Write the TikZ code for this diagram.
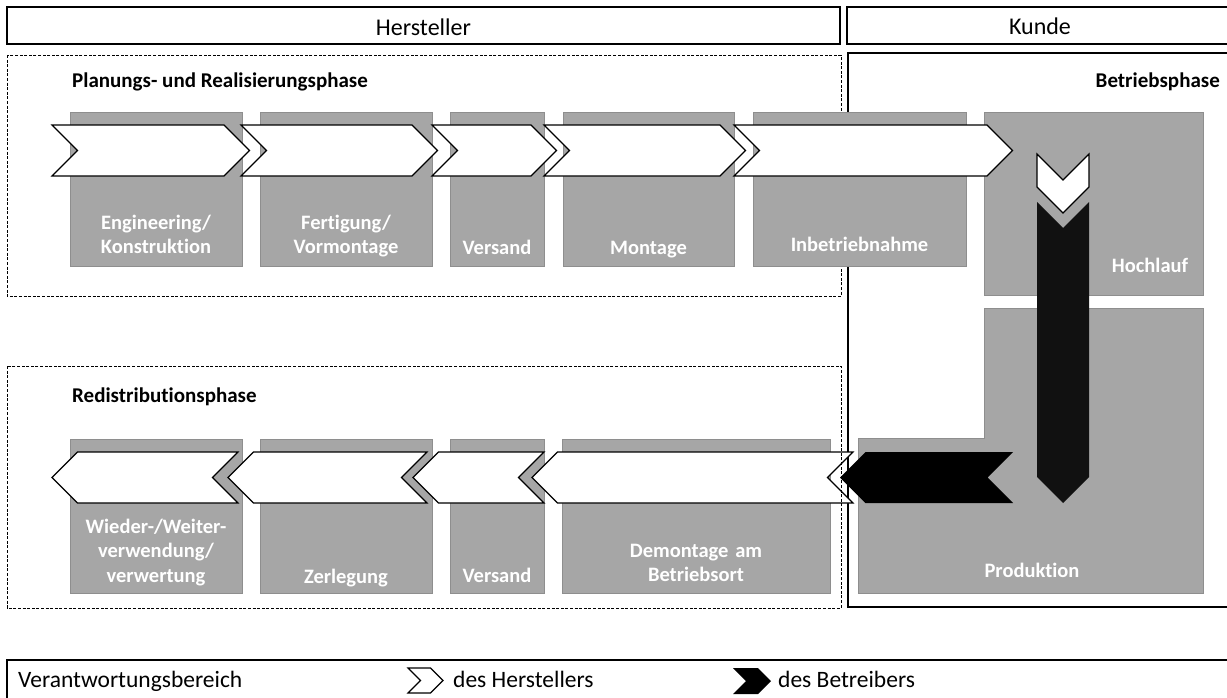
\documentclass[tikz,border=0pt]{standalone}
\usepackage{fontspec}
\setmainfont[Ligatures={NoCommon,NoContextual}]{Carlito}
\definecolor{boxgray}{HTML}{A6A6A6}
\definecolor{boxline}{HTML}{8E8E8E}
\definecolor{darkchev}{HTML}{111111}
% right pointing chevron: [style]{left}{body end}{mid y}{half height}
\newcommand{\chevR}[5][chev]{\draw[#1] ({#2},{#4-#5}) -- ({#3},{#4-#5}) -- ({#3+#5},#4)
  -- ({#3},{#4+#5}) -- ({#2},{#4+#5}) -- ({#2+#5},#4) -- cycle;}
% left pointing chevron: [style]{tip}{right end}{mid y}{half height}
\newcommand{\chevL}[5][chev]{\draw[#1] ({#2},#4) -- ({#2+#5},{#4-#5}) -- ({#3},{#4-#5})
  -- ({#3-#5},#4) -- ({#3},{#4+#5}) -- ({#2+#5},{#4+#5}) -- cycle;}
\begin{document}
\begin{tikzpicture}[x=1pt,y=-1pt,
  frame/.style={draw=black,line width=1.3pt},
  dframe/.style={draw=black,line width=0.9pt,dash pattern=on 3pt off 1.6pt},
  stepbox/.style={fill=boxgray,draw=boxline,line width=1pt},
  chev/.style={fill=white,draw=black,line width=1.1pt,line join=miter},
  bchev/.style={fill=black,draw=none},
  head/.style={font=\fontsize{24}{28}\selectfont,anchor=base},
  phase/.style={font=\bfseries\fontsize{21}{25}\selectfont},
  lbl/.style={text=white,font=\bfseries\fontsize{20.5}{24.5}\selectfont,
    text width=220pt,align=center,anchor=base,inner sep=0pt},
  legtxt/.style={font=\fontsize{23.5}{28}\selectfont,anchor=base west,inner sep=0pt}]
  \useasboundingbox (0,0) rectangle (1227,697);
  \pgfmathsetmacro\hh{25.5}
  % frames behind the boxes:
  \draw[frame] (7,7) rectangle (840,44);
  \draw[frame] (847,7) rectangle (1240,44);
  \draw[dframe] (7,55) rectangle (841,296);
  \draw[frame] (848,53) rectangle (1240,607);
  % grey boxes, top row:
  \draw[stepbox] (70,112) rectangle (242,266);
  \draw[stepbox] (260,112) rectangle (432,266);
  \draw[stepbox] (450,112) rectangle (544,266);
  \draw[stepbox] (563,112) rectangle (734,266);
  \draw[stepbox] (753,112) rectangle (966,266);
  \draw[stepbox] (984,112) rectangle (1203,295);
  % grey boxes, bottom row:
  \draw[stepbox] (70,439) rectangle (242,593);
  \draw[stepbox] (260,439) rectangle (432,593);
  \draw[stepbox] (450,439) rectangle (544,593);
  \draw[stepbox] (562,439) rectangle (830,593);
  \draw[stepbox] (984,308) -- (1203,308) -- (1203,593) -- (858,593) -- (858,438) -- (984,438) -- cycle;
  % chevrons of the manufacturer, top row:
  \chevR{52}{224}{150.5}{\hh}
  \chevR{241}{412}{150.5}{\hh}
  \chevR{432}{531}{150.5}{\hh}
  \chevR{544}{720}{150.5}{\hh}
  \chevR{734}{987}{150.5}{\hh}
  % chevrons going down:
  \draw[chev] (1037,154) -- (1063,180) -- (1089,154) -- (1089,187) -- (1063,213) -- (1037,187) -- cycle;
  \draw[fill=darkchev,draw=none] (1037,202) -- (1063,228) -- (1089,202) -- (1089,477) -- (1063,503) -- (1037,477) -- cycle;
  % chevrons going back, bottom row:
  \chevL[bchev]{840}{1013}{477.5}{\hh}
  \chevL{532}{853}{477.5}{\hh}
  \chevL{413}{544}{477.5}{\hh}
  \chevL{228}{427}{477.5}{\hh}
  \chevL{52}{238}{477.5}{\hh}
  % frames in front:
  \draw[dframe] (7,366) rectangle (841,608);
  \draw[frame] (7,660) rectangle (1240,720);
  % headers and phases:
  \node[head] (hersteller) at (423.5,35) {Hersteller};
  \node[head] (kunde) at (1040,34) {Kunde};
  \node[phase,anchor=base west,inner sep=0pt] (planung) at (72,87) {Planungs- und Realisierungsphase};
  \node[phase,anchor=base east,inner sep=0pt] (betrieb) at (1220,87) {Betriebsphase};
  \node[phase,anchor=base west,inner sep=0pt] (redist) at (72,402) {Redistributionsphase};
  % step labels:
  \node[lbl] (eng) at (156,229) {Engineering/\\Konstruktion};
  \node[lbl] (fert) at (346,229) {Fertigung/\\Vormontage};
  \node[lbl] (versand) at (497,254) {Versand};
  \node[lbl] (montage) at (648.5,254) {Montage};
  \node[lbl] (inbetrieb) at (859.5,251) {Inbetriebnahme};
  \node[lbl] (hochlauf) at (1150,272) {Hochlauf};
  \node[lbl] (produktion) at (1032,577) {Produktion};
  \node[lbl] (wieder) at (156,533) {Wieder-/Weiter-\\verwendung/\\verwertung};
  \node[lbl] (zerlegung) at (346,583) {Zerlegung};
  \node[lbl] (versandb) at (497,582) {Versand};
  \node[lbl] (demontage) at (696,557) {Demontage am\\Betriebsort};
  % legend:
  \node[legtxt] (verantw) at (18,687) {Verantwortungsbereich};
  \chevR{408}{430.5}{680.5}{12.5}
  \node[legtxt] (herst) at (453,687) {des Herstellers};
  \chevR[bchev]{733}{758}{681}{13}
  \node[legtxt] (betr) at (778,687) {des Betreibers};
\end{tikzpicture}
\end{document}
